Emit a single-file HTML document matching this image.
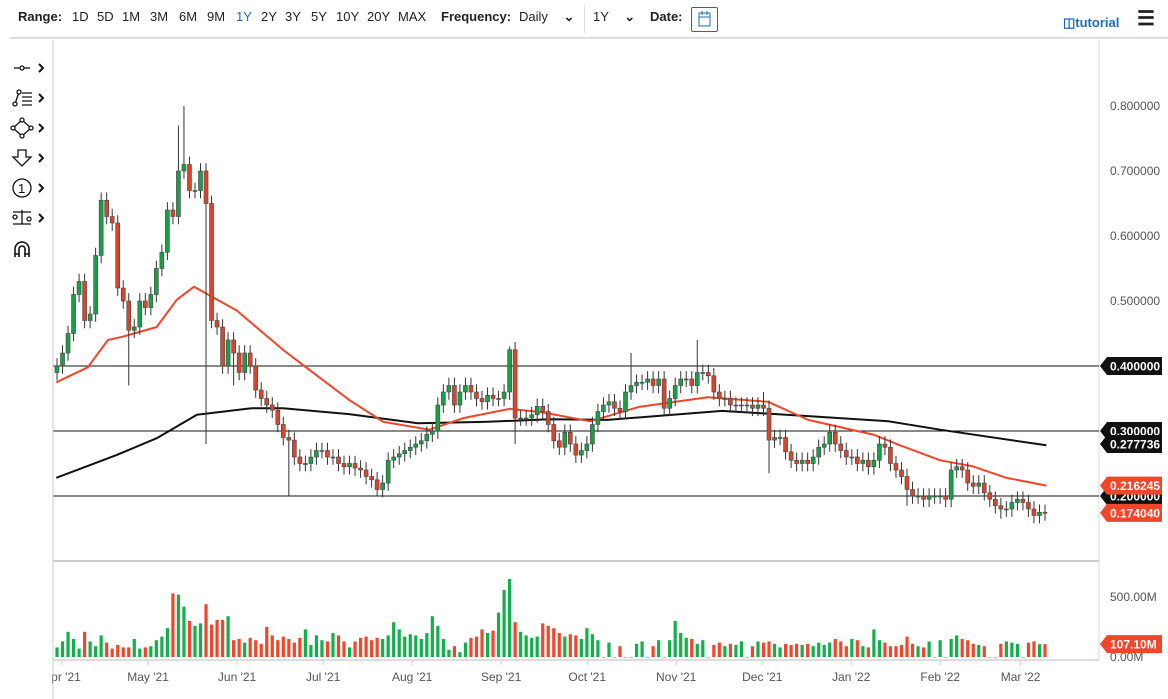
<!DOCTYPE html>
<html><head><meta charset="utf-8">
<style>
body{margin:0;width:1168px;height:699px;background:#fff;font-family:"Liberation Sans",sans-serif;overflow:hidden;position:relative}
.tb{position:absolute;top:9px;font-size:13px;color:#222;white-space:nowrap}
.b{font-weight:bold}
</style></head><body>
<div>
<span class="tb b" style="left:18px">Range:</span>
<span class="tb" style="left:72px">1D</span>
<span class="tb" style="left:97px">5D</span>
<span class="tb" style="left:122px">1M</span>
<span class="tb" style="left:150px">3M</span>
<span class="tb" style="left:179px">6M</span>
<span class="tb" style="left:207px">9M</span>
<span class="tb" style="left:236px;color:#1a6fb5">1Y</span>
<span class="tb" style="left:261px">2Y</span>
<span class="tb" style="left:285px">3Y</span>
<span class="tb" style="left:311px">5Y</span>
<span class="tb" style="left:336px">10Y</span>
<span class="tb" style="left:367px">20Y</span>
<span class="tb" style="left:398px">MAX</span>
<span class="tb b" style="left:441px">Frequency:</span>
<span class="tb" style="left:519px">Daily <span style="margin-left:12px;font-weight:bold">&#8964;</span></span>
<div style="position:absolute;left:584px;top:5px;width:1px;height:28px;background:#ddd"></div>
<span class="tb" style="left:593px">1Y <span style="margin-left:12px;font-weight:bold">&#8964;</span></span>
<span class="tb b" style="left:650px">Date:</span>
<div style="position:absolute;left:691px;top:7px;width:25px;height:23px;border:1px solid #1a6fb5;border-radius:2px">
<svg width="25" height="23"><rect x="7" y="5" width="11" height="13" fill="none" stroke="#1a6fb5"/><line x1="7" y1="9" x2="18" y2="9" stroke="#1a6fb5"/><line x1="10" y1="3" x2="10" y2="7" stroke="#1a6fb5"/><line x1="15" y1="3" x2="15" y2="7" stroke="#1a6fb5"/></svg></div>
<span class="tb b" style="left:1063px;top:15px;color:#1a6fb5">&#9707;tutorial</span>
<span class="tb b" style="left:1137px;top:6px;font-size:20px">&#9776;</span>
<div style="position:absolute;left:10px;top:37px;width:1158px;height:2px;background:#ddd"></div>
</div>
<svg id="chart" width="1168" height="699" style="position:absolute;left:0;top:0">
<g stroke="#111" fill="none" stroke-width="1.3">
<g><line x1="14" y1="68" x2="30" y2="68"/><circle cx="22" cy="68" r="2" fill="#fff"/><path d="M39 64l4 4-4 4" stroke-width="2"/></g>
<g><path d="M15 104L19 92M22 93h10M22 97h10M22 101h10M22 105h10"/><circle cx="15" cy="104" r="2" fill="#fff"/><circle cx="19" cy="92" r="2" fill="#fff"/><path d="M39 94l4 4-4 4" stroke-width="2"/></g>
<g><path d="M22 120l9 8-9 8-9-8z"/><circle cx="22" cy="120" r="2" fill="#fff"/><circle cx="31" cy="128" r="2" fill="#fff"/><circle cx="22" cy="136" r="2" fill="#fff"/><circle cx="13" cy="128" r="2" fill="#fff"/><path d="M39 124l4 4-4 4" stroke-width="2"/></g>
<g><path d="M18 150h8v7h5l-9 9-9-9h5z"/><path d="M39 154l4 4-4 4" stroke-width="2"/></g>
<g><circle cx="22" cy="188" r="9"/><text x="18" y="193" font-size="13" fill="#111" stroke="none" font-family="Liberation Sans">1</text><path d="M39 184l4 4-4 4" stroke-width="2"/></g>
<g><path d="M13 212h18M22 210v14M13 224h18"/><circle cx="15" cy="217" r="2" fill="#fff"/><circle cx="29" cy="219" r="2" fill="#fff"/><path d="M39 214l4 4-4 4" stroke-width="2"/></g>
<g><path d="M15 257v-8a7 7 0 0 1 14 0v8M19 257v-8a3 3 0 0 1 6 0v8M15 254h4M25 254h4" stroke-width="1.6"/></g>
</g>
<line x1="1099" y1="40" x2="1099" y2="660" stroke="#ddd"/>
<line x1="53" y1="561" x2="1099" y2="561" stroke="#ccc" stroke-width="2"/>
<line x1="53" y1="660" x2="1099" y2="660" stroke="#ddd" stroke-width="2"/>
<g id="g"></g>
</svg>
<script>
const closes=[0.40,0.42,0.45,0.51,0.53,0.47,0.48,0.57,0.655,0.63,0.62,0.52,0.50,0.455,0.46,0.50,0.49,0.51,0.55,0.575,0.64,0.63,0.70,0.71,0.67,0.67,0.70,0.65,0.47,0.46,0.40,0.44,0.42,0.39,0.42,0.40,0.363,0.35,0.34,0.332,0.31,0.29,
0.286,0.26,0.25,0.25,0.26,0.27,0.27,0.26,0.26,0.25,0.245,0.25,0.243,0.24,0.23,0.225,0.21,0.22,0.255,0.26,0.265,0.27,0.275,0.28,0.285,0.295,0.30,0.34,0.36,0.37,0.34,0.36,0.37,0.36,0.35,0.345,0.355,0.35,0.35,0.36,
0.425,0.32,0.32,0.32,0.325,0.338,0.33,0.31,0.285,0.275,0.298,0.28,0.263,0.27,0.28,0.31,0.33,0.34,0.345,0.335,0.33,0.36,0.37,0.375,0.375,0.38,0.37,0.38,0.335,0.35,0.37,0.38,0.38,0.37,0.39,0.39,0.385,0.36,0.35,0.35,0.34,0.34,0.34,0.34,0.335,0.34,0.335,
0.286,0.29,0.29,0.268,0.255,0.25,0.255,0.25,0.26,0.275,0.28,0.298,0.28,0.27,0.26,0.26,0.25,0.255,0.245,0.255,0.28,0.275,0.25,0.24,0.23,0.21,0.2,0.2,0.195,0.2,0.2,0.2,0.195,0.24,0.245,0.24,0.22,0.215,0.22,0.205,0.195,0.185,0.18,0.18,0.19,0.195,0.19,0.18,0.17,0.175,0.174];
const spikeIdx=[22,23,13,27,32,42,58,82,83,104,116,128,129,154,171];
const spikeVal=[0.77,0.80,0.37,0.28,0.37,0.20,0.20,0.43,0.28,0.42,0.44,0.36,0.235,0.185,0.165];
const volumes=[80,130,210,150,70,210,130,90,180,120,70,100,80,80,150,70,80,90,140,170,240,530,520,420,300,260,280,440,270,310,310,340,140,150,120,160,140,110,250,180,140,170,150,120,160,230,100,180,140,130,200,180,130,80,130,160,170,140,160,150,180,290,230,170,190,180,150,200,340,260,150,60,90,40,120,160,170,230,200,220,370,560,650,290,210,180,160,170,280,260,240,200,170,190,180,150,240,190,140,0,120,0,90,0,0,110,130,0,90,140,0,140,300,200,160,150,110,140,0,100,120,90,110,100,130,0,90,130,120,130,110,80,110,100,110,100,110,90,120,100,120,150,130,90,150,140,90,80,230,140,120,90,90,100,170,110,90,80,130,0,140,0,150,180,150,140,110,100,90,0,0,110,130,120,110,0,120,130,107,107];
const ma50Days=[-2,9,16,21,33,40,46,61,77,85,100,112,128,140,156,167,184,201,225,246,260,283,292,306,317,329,343];
const ma50Vals=[0.375,0.398,0.44,0.445,0.46,0.502,0.522,0.485,0.425,0.398,0.348,0.314,0.302,0.32,0.334,0.329,0.315,0.337,0.352,0.345,0.317,0.294,0.278,0.255,0.246,0.228,0.216];
const ma200Days=[-2,7,19,33,47,66,77,100,124,147,170,190,230,260,288,306,343];
const ma200Vals=[0.228,0.243,0.263,0.289,0.325,0.335,0.335,0.326,0.312,0.314,0.318,0.317,0.331,0.323,0.315,0.302,0.278];
const priceTicks=[0.8,0.7,0.6,0.5];
const levels=[0.4,0.3,0.2];
const monthLabels=["Apr '21","May '21","Jun '21","Jul '21","Aug '21","Sep '21","Oct '21","Nov '21","Dec '21","Jan '22","Feb '22","Mar '22"];
const monthDays=[0,30,61,91,122,153,183,214,244,275,306,334];

const NS="http://www.w3.org/2000/svg",G=document.getElementById('g');
const X0=57,X1=1045,n=closes.length;
const xi=i=>X0+i*(X1-X0)/(n-1);
const xd=d=>62+d*2.87;
const yp=v=>366-(v-0.4)*650;
const yv=v=>657-v*0.12;
function mk(t,a,p){const e=document.createElementNS(NS,t);for(const k in a)e.setAttribute(k,a[k]);(p||G).appendChild(e);return e;}
function tx(x,y,s,fill,size,anchor,weight){const e=mk('text',{x:x,y:y,fill:fill,'font-size':size,'text-anchor':anchor||'start','font-family':'Liberation Sans, sans-serif','font-weight':weight||'normal'});e.textContent=s;return e;}
priceTicks.forEach(v=>{const t=tx(1110,yp(v)+4,v.toFixed(6),'#555',12);

});
levels.forEach(v=>{const l=mk('line',{x1:53,x2:1099,y1:yp(v),y2:yp(v),stroke:'#111','stroke-width':1});

});
volumes.forEach((v,i)=>{const o=i?closes[i-1]:0.39,up=closes[i]>=o;
const r=mk('rect',{x:xi(i)-1.6,y:yv(v),width:3.2,height:Math.max(657-yv(v),0.5),fill:up?'#12b04a':'#f0472a'});

});
function line(days,vals,col,name){let d='';days.forEach((dd,k)=>{d+=(k?'L':'M')+xd(dd).toFixed(1)+' '+yp(vals[k]).toFixed(1);});
const p=mk('path',{d:d,fill:'none',stroke:col,'stroke-width':2,'stroke-linejoin':'round'});

}
line(ma200Days,ma200Vals,'#111','ma-200-line');
line(ma50Days,ma50Vals,'#f0472a','ma-50-line');
closes.forEach((c,i)=>{const o=i?closes[i-1]:0.39,up=c>=o;let hi=Math.max(o,c)+0.012,lo=Math.min(o,c)-0.012;
const k=spikeIdx.indexOf(i);if(k>=0){if(spikeVal[k]>c)hi=spikeVal[k];else lo=spikeVal[k];}
const x=xi(i);
const w=mk('line',{x1:x,x2:x,y1:yp(hi),y2:yp(lo),stroke:'#333','stroke-width':1});


const t=yp(Math.max(o,c)),b=yp(Math.min(o,c));
const r=mk('rect',{x:x-2,y:t,width:4,height:Math.max(b-t,1),fill:up?'#1a9e48':'#d9442b',stroke:'#444','stroke-width':0.6});

});
monthLabels.forEach((m,i)=>{const x=xd(monthDays[i]);
const tk=mk('line',{x1:x,x2:x,y1:661,y2:665,stroke:'#ccc'});


const t=tx(x,681,m,'#555',12,'middle');

});
mk('rect',{x:0,y:560,width:52,height:139,fill:'#fff'});
mk('line',{x1:53,y1:40,x2:53,y2:699,stroke:'#ccc'});
[['500.00M',500],['0.00M',0]].forEach(a=>{const t=tx(1110,yv(a[1])+4,a[0],'#555',12);

});
function tag(v,y,col,name){const g=mk('g',{});


mk('path',{d:`M1100 ${y}l7 -9h55v18h-55z`,fill:col},g);
const t=tx(1110,y+4.5,v,'#fff',12,'start','bold');g.appendChild(t);}
tag('0.200000',yp(0.2),'#111','tag-level-0-2');
tag('0.400000',yp(0.4),'#111','tag-level-0-4');
tag('0.300000',yp(0.3),'#111','tag-level-0-3');
tag('0.277736',yp(0.3)+13,'#111','tag-ma-200');
tag('0.216245',yp(0.216),'#f0472a','tag-ma-50');
tag('0.174040',yp(0.174),'#f0472a','tag-last-price');
tag('107.10M',yv(107),'#f0472a','tag-last-volume');
</script>
</body></html>
